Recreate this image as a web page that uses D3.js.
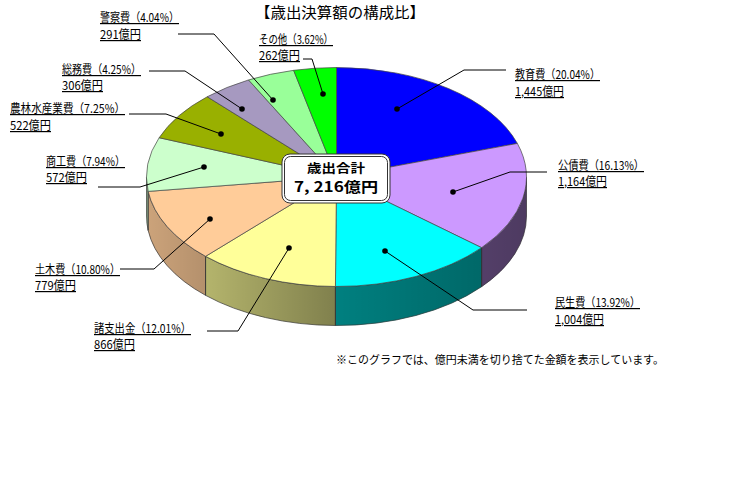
<!DOCTYPE html>
<html>
<head>
<meta charset="utf-8">
<script src="https://cdn.jsdelivr.net/npm/d3@7"></script>
<style>
html, body { margin: 0; padding: 0; background: #fff; }
svg { display: block; }
text { font-family: "Noto Sans CJK JP", sans-serif; fill: #000; }
.lab { font-size: 12px; text-decoration: underline; }
</style>
</head>
<body>
<div id="viz"></div>
<script>
// values, clockwise from 12 o'clock
var categories = ["教育費", "公債費", "民生費", "諸支出金", "土木費", "商工費", "農林水産業費", "総務費", "警察費", "その他"];
var percents = [20.04, 16.13, 13.92, 12.01, 10.80, 7.94, 7.25, 4.25, 4.04, 3.62];
var amounts = ["1,445", "1,164", "1,004", "866", "779", "572", "522", "306", "291", "262"];
var totalLabel = "歳出合計";
var totalValue = "7, 216億円";
var title = "【歳出決算額の構成比】";
var footnote = "※このグラフでは、億円未満を切り捨てた金額を表示しています。";

var colors = ["#0000ff", "#cc99ff", "#00ffff", "#ffff99", "#ffcc99", "#ccffcc", "#99b000", "#a699c0", "#99ff99", "#00ff00"];

// label placement: left edge, two underline rows, text width
var labelPos = [
    {x: 515, y1: 79, y2: 96, w: 85},
    {x: 558, y1: 170, y2: 186, w: 86},
    {x: 555, y1: 307, y2: 324, w: 85},
    {x: 94, y1: 333, y2: 349, w: 97},
    {x: 35, y1: 274, y2: 290, w: 85},
    {x: 46, y1: 166, y2: 182, w: 79},
    {x: 10, y1: 113, y2: 130, w: 115},
    {x: 62, y1: 74, y2: 90, w: 79},
    {x: 100, y1: 22, y2: 39, w: 79},
    {x: 259, y1: 44, y2: 60, w: 74}
];
// leader lines: dot -> elbow -> end
var leaders = [
    [[397, 109], [464, 70], [506, 70]],
    [[453, 192], [510, 172], [547, 172]],
    [[385, 251], [473, 310], [527, 310]],
    [[289, 248], [238, 331], [207, 331]],
    [[210, 219], [154, 269], [120, 269]],
    [[204, 167], [140, 187], [98, 187]],
    [[221, 134], [166, 114], [129, 114]],
    [[242, 109], [185, 71], [149, 71]],
    [[273, 100], [214, 34], [178, 34]],
    [[323, 94], [312, 59], [303, 59]]
];

var width = 738, height = 502;
var cx = 336.5, cy = 177, rx = 190, ry = 109.5, depth = 39;

var svg = d3.select("#viz").append("svg")
    .attr("width", width)
    .attr("height", height);

var pie = d3.pie().sort(null).value(function(d) { return d; });
var slices = pie(percents);

// wall gets darker towards the right
var shade = svg.append("defs").append("linearGradient")
    .attr("id", "shade")
    .attr("gradientUnits", "userSpaceOnUse")
    .attr("x1", cx - rx).attr("x2", cx + rx)
    .attr("y1", 0).attr("y2", 0);
[[0, 0.2], [0.5, 0.5], [1, 0.62]].forEach(function(s) {
    shade.append("stop")
        .attr("offset", s[0])
        .attr("stop-color", "#000")
        .attr("stop-opacity", s[1]);
});

function px(a) { return cx + rx * Math.sin(a); }
function py(a) { return cy - ry * Math.cos(a); }

// only the front half of the rim shows
function wallPath(d) {
    var a0 = Math.max(d.startAngle, Math.PI / 2),
        a1 = Math.min(d.endAngle, Math.PI * 3 / 2);
    if (a1 <= a0) return null;
    return "M" + px(a0) + "," + py(a0) +
        "A" + rx + "," + ry + " 0 0 1 " + px(a1) + "," + py(a1) +
        "L" + px(a1) + "," + (py(a1) + depth) +
        "A" + rx + "," + ry + " 0 0 0 " + px(a0) + "," + (py(a0) + depth) + "Z";
}

var walls = slices.filter(function(d) { return wallPath(d) !== null; });

svg.append("g").selectAll("path")
    .data(walls)
    .enter().append("path")
    .attr("d", wallPath)
    .attr("fill", function(d) { return colors[d.index]; });

svg.append("g").selectAll("path")
    .data(walls)
    .enter().append("path")
    .attr("d", wallPath)
    .attr("fill", "url(#shade)")
    .attr("stroke", "#333")
    .attr("stroke-width", 0.7);

var arc = d3.arc().innerRadius(0).outerRadius(rx);

svg.append("g")
    .attr("transform", "translate(" + cx + "," + cy + ") scale(1," + (ry / rx) + ")")
    .selectAll("path")
    .data(slices)
    .enter().append("path")
    .attr("d", arc)
    .attr("fill", function(d) { return colors[d.index]; })
    .attr("stroke", "#444")
    .attr("stroke-width", 0.7)
    .attr("vector-effect", "non-scaling-stroke");

var line = d3.line();

svg.append("g").selectAll("path")
    .data(leaders)
    .enter().append("path")
    .attr("d", line)
    .attr("fill", "none")
    .attr("stroke", "#000")
    .attr("stroke-width", 1);

svg.append("g").selectAll("circle")
    .data(leaders)
    .enter().append("circle")
    .attr("cx", function(d) { return d[0][0]; })
    .attr("cy", function(d) { return d[0][1]; })
    .attr("r", 2.8)
    .attr("fill", "#000");

var labels = svg.append("g").selectAll("g")
    .data(categories)
    .enter().append("g");

labels.append("text")
    .attr("class", "lab")
    .attr("x", function(d, i) { return labelPos[i].x; })
    .attr("y", function(d, i) { return labelPos[i].y1; })
    .attr("textLength", function(d, i) { return labelPos[i].w; })
    .attr("lengthAdjust", "spacingAndGlyphs")
    .text(function(d, i) { return d + "（" + percents[i].toFixed(2) + "%）"; });

labels.append("text")
    .attr("class", "lab")
    .attr("x", function(d, i) { return labelPos[i].x; })
    .attr("y", function(d, i) { return labelPos[i].y2; })
    .attr("textLength", function(d, i) { return amounts[i].length > 3 ? 49 : 41; })
    .attr("lengthAdjust", "spacingAndGlyphs")
    .text(function(d, i) { return amounts[i] + "億円"; });

svg.append("text")
    .attr("x", 340)
    .attr("y", 18)
    .attr("text-anchor", "middle")
    .attr("font-size", 15)
    .attr("textLength", 170)
    .attr("lengthAdjust", "spacingAndGlyphs")
    .text(title);

svg.append("text")
    .attr("x", 336)
    .attr("y", 364)
    .attr("font-size", 11.5)
    .attr("textLength", 328)
    .attr("lengthAdjust", "spacingAndGlyphs")
    .text(footnote);

// total box with double border
var box = svg.append("g");
box.append("rect")
    .attr("x", 282).attr("y", 154)
    .attr("width", 108).attr("height", 49)
    .attr("rx", 8)
    .attr("fill", "#fff")
    .attr("stroke", "#333")
    .attr("stroke-width", 1);
box.append("rect")
    .attr("x", 284.5).attr("y", 156.5)
    .attr("width", 103).attr("height", 44)
    .attr("rx", 6)
    .attr("fill", "#fff")
    .attr("stroke", "#333")
    .attr("stroke-width", 1);
box.append("text")
    .attr("x", 336)
    .attr("y", 172.5)
    .attr("text-anchor", "middle")
    .attr("font-size", 12.5)
    .attr("font-weight", "bold")
    .attr("textLength", 58)
    .attr("lengthAdjust", "spacingAndGlyphs")
    .text(totalLabel);
box.append("text")
    .attr("x", 336)
    .attr("y", 191.5)
    .attr("text-anchor", "middle")
    .attr("font-size", 14)
    .attr("font-weight", "bold")
    .attr("textLength", 84)
    .attr("lengthAdjust", "spacingAndGlyphs")
    .text(totalValue);
</script>
</body>
</html>
